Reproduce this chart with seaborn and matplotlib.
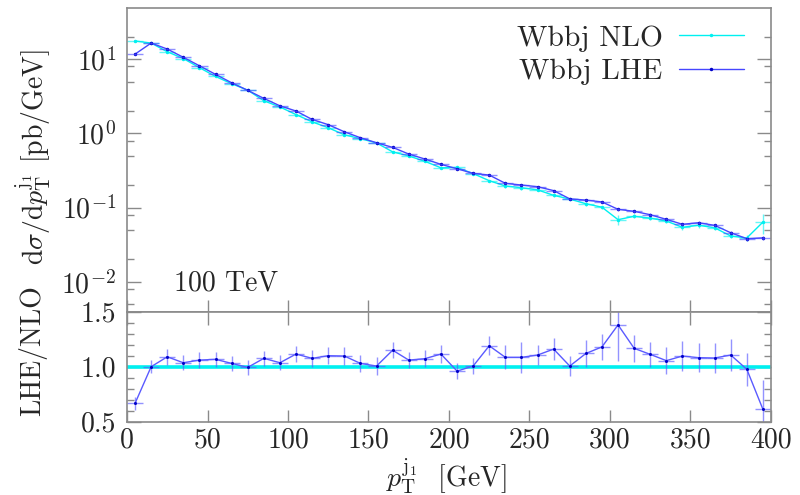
import numpy as np
import pandas as pd
import matplotlib
matplotlib.use("Agg")
import matplotlib.pyplot as plt
import seaborn as sns
from matplotlib.ticker import FixedLocator, FixedFormatter, NullFormatter, MultipleLocator

# ---------------- data ----------------
pt_centers = [5, 15, 25, 35, 45, 55, 65, 75, 85, 95,
              105, 115, 125, 135, 145, 155, 165, 175, 185, 195,
              205, 215, 225, 235, 245, 255, 265, 275, 285, 295,
              305, 315, 325, 335, 345, 355, 365, 375, 385, 395]
half_bin = 5

lhe_xsec = [11.7, 16.5, 13.7, 10.6, 8.15, 6.24, 4.81, 3.80, 2.96, 2.35,
            2.00, 1.54, 1.31, 1.05, 0.873, 0.747, 0.647, 0.526, 0.451, 0.382,
            0.333, 0.289, 0.274, 0.212, 0.201, 0.191, 0.169, 0.131, 0.126, 0.119,
            0.0946, 0.0889, 0.080, 0.0693, 0.0594, 0.0624, 0.0575, 0.0457, 0.038, 0.039]

nlo_xsec = [17.6, 16.5, 12.6, 10.2, 7.69, 5.85, 4.67, 3.82, 2.75, 2.27,
            1.79, 1.43, 1.19, 0.957, 0.848, 0.743, 0.563, 0.496, 0.420, 0.343,
            0.347, 0.287, 0.230, 0.195, 0.185, 0.173, 0.146, 0.130, 0.1125, 0.101,
            0.0686, 0.0762, 0.0719, 0.0657, 0.0541, 0.0577, 0.0533, 0.0413, 0.0389, 0.0637]

lhe_rel_err = [0.02, 0.02, 0.02, 0.02, 0.02, 0.02, 0.02, 0.02, 0.02, 0.02,
               0.02, 0.02, 0.02, 0.02, 0.02, 0.02, 0.02, 0.02, 0.02, 0.02,
               0.03, 0.03, 0.03, 0.03, 0.03, 0.03, 0.03, 0.03, 0.03, 0.03,
               0.04, 0.04, 0.04, 0.04, 0.04, 0.04, 0.05, 0.05, 0.06, 0.06]

nlo_rel_err = [0.02, 0.02, 0.02, 0.02, 0.02, 0.02, 0.02, 0.02, 0.02, 0.02,
               0.02, 0.02, 0.02, 0.02, 0.02, 0.02, 0.02, 0.02, 0.02, 0.02,
               0.03, 0.03, 0.03, 0.05, 0.08, 0.04, 0.05, 0.04, 0.06, 0.05,
               0.15, 0.06, 0.05, 0.06, 0.07, 0.07, 0.07, 0.07, 0.08, 0.30]

ratio_vals = [0.667, 1.0, 1.09, 1.036, 1.06, 1.067, 1.03, 0.994, 1.076, 1.036,
              1.115, 1.076, 1.10, 1.097, 1.03, 1.006, 1.15, 1.06, 1.073, 1.115,
              0.96, 1.006, 1.19, 1.085, 1.085, 1.106, 1.16, 1.006, 1.12, 1.18,
              1.38, 1.167, 1.112, 1.055, 1.097, 1.082, 1.079, 1.106, 0.976, 0.612]

ratio_err = [0.06, 0.06, 0.07, 0.07, 0.07, 0.07, 0.065, 0.07, 0.07, 0.07,
             0.075, 0.075, 0.075, 0.08, 0.08, 0.08, 0.075, 0.07, 0.075, 0.08,
             0.075, 0.07, 0.085, 0.11, 0.14, 0.095, 0.10, 0.09, 0.12, 0.115,
             0.33, 0.12, 0.115, 0.12, 0.14, 0.13, 0.14, 0.145, 0.15, 0.27]

x_ticks = [0, 50, 100, 150, 200, 250, 300, 350, 400]
main_yticks = [1e-2, 1e-1, 1e0, 1e1]
main_yticklabels = [r"$10^{-2}$", r"$10^{-1}$", r"$10^{0}$", r"$10^{1}$"]
ratio_yticks = [0.5, 1.0, 1.5]
ratio_yticklabels = ["0.5", "1.0", "1.5"]

df = pd.DataFrame({"pt": pt_centers, "lhe": lhe_xsec, "nlo": nlo_xsec,
                   "ratio": ratio_vals})

# ---------------- style ----------------
sns.set_theme(style="ticks")
plt.rcParams["font.family"] = ["cmr10", "DejaVu Serif"]
plt.rcParams["mathtext.fontset"] = "cm"
plt.rcParams["axes.formatter.use_mathtext"] = True
plt.rcParams["axes.unicode_minus"] = False

W, H = 800, 495
fig = plt.figure(figsize=(W / 100, H / 100), dpi=100)
L, R = 127 / W, 771 / W
ax1 = fig.add_axes([L, 1 - 311.7 / H, R - L, (311.7 - 8) / H])
ax2 = fig.add_axes([L, 1 - 421.7 / H, R - L, (421.7 - 311.7) / H])

spine_col = "#8a8a8a"
text_col = "#262626"
fs = 20

cyan = "#00f0f0"
blue_line = "#4646ff"
blue_dot = "#0000c8"

# ---------------- main panel ----------------
sns.lineplot(data=df, x="pt", y="nlo", ax=ax1, color=cyan, lw=1.0,
             marker="o", markersize=2.5, markeredgewidth=0, sort=False,
             label="Wbbj NLO")
ax1.errorbar(pt_centers, nlo_xsec, xerr=half_bin,
             yerr=np.array(nlo_xsec) * np.array(nlo_rel_err),
             fmt="none", ecolor=cyan, elinewidth=1.0, alpha=0.6)
sns.lineplot(data=df, x="pt", y="lhe", ax=ax1, color=blue_line, lw=1.0,
             marker="o", markersize=2.5, markeredgewidth=0,
             markerfacecolor=blue_dot, sort=False, label="Wbbj LHE")
ax1.errorbar(pt_centers, lhe_xsec, xerr=half_bin,
             yerr=np.array(lhe_xsec) * np.array(lhe_rel_err),
             fmt="none", ecolor=blue_line, elinewidth=1.0, alpha=0.6)

ax1.set_yscale("log")
ax1.set_xlim(0, 400)
ax1.set_ylim(0.00394, 49)
ax1.yaxis.set_major_locator(FixedLocator(main_yticks))
ax1.yaxis.set_major_formatter(FixedFormatter(main_yticklabels))
minor = []
for dec in [1e-3, 1e-2, 1e-1, 1e0, 1e1]:
    for s in (2, 5, 8):
        minor.append(dec * s)
ax1.yaxis.set_minor_locator(FixedLocator(minor))
ax1.yaxis.set_minor_formatter(NullFormatter())
ax1.xaxis.set_major_locator(FixedLocator(x_ticks))
ax1.xaxis.set_minor_locator(FixedLocator([]))
ax1.set_xticklabels([])
ax1.set_xlabel("")
ax1.set_ylabel("")
ax1.tick_params(axis="both", which="both", direction="in", colors=spine_col,
                labelcolor=text_col, labelsize=fs, right=True, top=False,
                pad=8)
ax1.tick_params(axis="y", which="major", length=10, width=1)
ax1.tick_params(axis="y", which="minor", length=5, width=1)
ax1.tick_params(axis="x", which="major", length=9, width=1)

ax1.text(29.2, 0.071, "100 TeV", transform=ax1.get_xaxis_transform(),
         fontsize=fs, color=text_col, ha="left", va="baseline")

leg = ax1.legend(loc="upper right", bbox_to_anchor=(0.99, 1.012),
                 frameon=False, markerfirst=False, fontsize=21.3,
                 handlelength=2.2, handletextpad=0.55, labelspacing=0.22,
                 borderaxespad=0.3, numpoints=1)
for t in leg.get_texts():
    t.set_color(text_col)

# ---------------- ratio panel ----------------
ax2.axhline(1.0, color=cyan, lw=2.6, zorder=1)
sns.lineplot(data=df, x="pt", y="ratio", ax=ax2, color="#5a5aff", lw=1.0,
             marker="o", markersize=2.2, markeredgewidth=0,
             markerfacecolor=blue_dot, sort=False, legend=False, zorder=3)
ax2.errorbar(pt_centers, ratio_vals, xerr=half_bin, yerr=ratio_err,
             fmt="none", ecolor="#5a5aff", elinewidth=1.0, alpha=0.65, zorder=2)
ax2.set_xlim(0, 400)
ax2.set_ylim(0.5, 1.5)
ax2.yaxis.set_major_locator(FixedLocator(ratio_yticks))
ax2.yaxis.set_major_formatter(FixedFormatter(ratio_yticklabels))
ax2.yaxis.set_minor_locator(MultipleLocator(0.1))
ax2.xaxis.set_major_locator(FixedLocator(x_ticks))
ax2.set_xticklabels([str(v) for v in x_ticks])
ax2.set_xlabel("")
ax2.set_ylabel("")
ax2.tick_params(axis="both", which="both", direction="in", colors=spine_col,
                labelcolor=text_col, labelsize=fs, right=True, top=True,
                pad=8)
ax2.tick_params(axis="y", which="major", length=10, width=1)
ax2.tick_params(axis="y", which="minor", length=5, width=1)
ax2.tick_params(axis="x", which="major", length=9, width=1, pad=4)

for ax in (ax1, ax2):
    for sp in ax.spines.values():
        sp.set_color(spine_col)
        sp.set_linewidth(1.2)
        sp.set_visible(True)

# ---------------- axis titles ----------------
fig.text(33 / W, 1 - 157 / H,
         r"$\mathrm{d}\sigma/\mathrm{d}p_{\mathrm{T}}^{\mathrm{j}_1}$ [pb/GeV]",
         rotation=90, ha="center", va="center", fontsize=fs, color=text_col)
fig.text(33 / W, 1 - 351 / H, "LHE/NLO", rotation=90, ha="center",
         va="center", fontsize=fs, color=text_col)
fig.text(446 / W, 1 - 476 / H,
         r"$p_{\mathrm{T}}^{\mathrm{j}_1}$  [GeV]", ha="center", va="center",
         fontsize=fs, color=text_col)

fig.savefig("out.png", dpi=100)
